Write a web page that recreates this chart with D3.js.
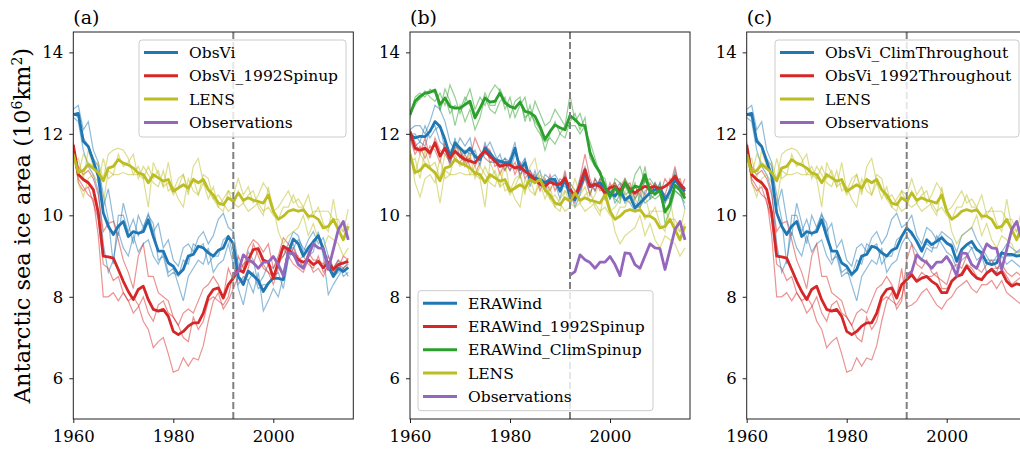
<!DOCTYPE html>
<html lang="en">
<head>
<meta charset="UTF-8">
<title>Antarctic sea ice area</title>
<script src="https://cdn.jsdelivr.net/npm/d3@7"></script>
<style>
  body { margin: 0; background: #fff; }
  svg text { font-family: 'DejaVu Serif', serif; fill: #000; }
  .tick text { font-size: 16.5px; }
  .legend text { font-size: 15.5px; }
  .title { font-size: 19px; }
</style>
</head>
<body>
<svg id="chart" width="1020" height="450"></svg>
<script>
// years of the model runs and of the observations
const years = d3.range(1960, 2016);
const obsYears = d3.range(1992, 2016);
const xTicks = [1960, 1980, 2000];
const yTicks = [6, 8, 10, 12, 14];

// ---- panel (a) / (c) shared: ObsVi ----
const obsViMean = [12.47, 12.5, 11.82, 11.69, 11.33, 10.96, 10.06, 9.73, 9.53, 9.73,
  9.85, 9.48, 9.6, 9.56, 9.6, 9.89, 9.48, 9.12, 9.12, 8.83,
  8.75, 8.55, 8.67, 9.0, 9.04, 9.24, 9.2, 9.08, 9.0, 9.14,
  9.2, 9.48, 9.3, 8.5, 8.3, 8.63, 8.52, 8.4, 8.13, 8.33,
  8.46, 8.45, 8.42, 9.1, 9.42, 9.3, 9.0, 9.2, 9.35, 9.5,
  9.18, 8.75, 8.5, 8.7, 8.62, 8.72];
const obsViM1 = [12.6, 12.7, 12.1, 12.3, 11.6, 11.3, 10.2, 10.65, 9.9, 9.5,
  10.3, 9.8, 9.3, 10.0, 9.7, 10.05, 9.6, 9.8, 9.2, 9.4,
  8.9, 8.75, 9.2, 9.3, 9.1, 9.45, 9.6, 9.3, 9.5, 9.9,
  10.05, 9.7, 9.6, 8.8, 8.6, 9.1, 8.9, 8.3, 8.5, 8.8,
  8.7, 8.9, 9.0, 9.3, 9.6, 9.5, 9.1, 9.4, 9.6, 9.3,
  9.45, 9.0, 8.7, 8.9, 8.5, 8.6];
const obsViM2 = [12.4, 12.3, 11.6, 11.2, 11.0, 10.6, 9.3, 8.6, 8.9, 9.6,
  9.2, 9.0, 9.5, 9.1, 9.3, 9.4, 9.0, 8.8, 9.1, 8.6,
  8.7, 8.3, 7.9, 8.5, 8.7, 8.9, 8.8, 9.2, 8.6, 8.8,
  8.9, 9.3, 8.8, 8.2, 7.8, 8.4, 8.1, 8.6, 7.65, 7.9,
  8.2, 8.0, 8.5, 9.1, 9.3, 8.9, 8.7, 9.0, 9.1, 9.6,
  9.0, 8.05, 8.3, 8.5, 8.7, 8.5];
const obsViM3 = [12.5, 12.4, 11.9, 11.7, 11.4, 11.2, 10.5, 9.9, 8.8, 10.0,
  10.0, 9.6, 9.9, 9.5, 9.7, 10.0, 9.8, 8.9, 9.0, 8.5,
  8.6, 8.5, 8.9, 8.8, 9.3, 9.2, 9.3, 8.8, 9.0, 9.0,
  9.4, 9.5, 9.0, 8.3, 8.5, 8.4, 8.6, 8.2, 8.3, 8.3,
  8.5, 8.6, 8.2, 8.9, 9.2, 9.4, 9.2, 9.1, 9.4, 9.5,
  9.1, 8.8, 8.5, 8.6, 8.7, 8.85];

// ---- ObsVi_1992Spinup ----
const spinupMean = [11.73, 11.0, 10.88, 10.8, 10.63, 10.06, 9.0, 8.98, 8.95, 8.67,
  8.38, 8.13, 7.93, 8.18, 8.26, 7.93, 7.69, 7.65, 7.69, 7.52,
  7.15, 7.07, 7.15, 7.28, 7.36, 7.36, 7.6, 8.0, 8.18, 8.22,
  7.97, 8.3, 8.46, 8.67, 8.6, 8.91, 9.16, 9.18, 8.9, 8.85,
  8.46, 8.85, 9.24, 9.16, 9.04, 8.91, 8.85, 8.91, 8.79, 8.87,
  8.71, 8.85, 8.67, 8.79, 8.83, 8.87];
const spinupM1 = [11.5, 10.9, 10.7, 10.5, 10.4, 9.5, 8.0, 8.0, 8.1, 7.9,
  8.1, 7.9, 8.0, 7.8, 7.4, 7.2, 6.75, 6.9, 7.0, 6.6,
  6.15, 6.2, 6.5, 6.3, 6.5, 6.45, 6.8, 7.4, 7.9, 8.1,
  7.7, 7.9, 8.2, 8.5, 8.4, 8.7, 9.3, 9.0, 8.7, 8.6,
  8.3, 8.7, 9.2, 9.0, 8.8, 8.7, 8.6, 8.9, 8.6, 8.7,
  8.5, 8.8, 8.6, 8.7, 9.0, 8.9];
const spinupM2 = [11.6, 11.2, 11.0, 11.1, 10.9, 10.5, 9.6, 9.8, 9.85, 9.4,
  8.9, 8.6, 8.2, 9.0, 9.3, 8.5, 8.5, 8.1, 8.0, 7.9,
  7.5, 7.3, 7.6, 7.7, 7.6, 7.9, 8.2, 8.3, 8.5, 8.3,
  8.0, 8.7, 8.4, 9.0, 8.7, 9.2, 9.4, 9.3, 9.1, 9.3,
  8.7, 9.0, 9.45, 9.3, 9.1, 9.0, 8.7, 9.1, 8.9, 8.9,
  8.8, 9.0, 8.7, 8.9, 8.8, 8.95];
const spinupM3 = [11.8, 10.8, 10.6, 10.7, 10.3, 9.9, 8.8, 8.7, 8.4, 8.5,
  8.1, 7.9, 7.6, 7.75, 8.0, 7.6, 7.4, 7.8, 7.9, 7.6,
  7.5, 7.3, 7.0, 6.9, 7.5, 7.2, 7.4, 7.9, 8.0, 7.9,
  7.8, 8.0, 8.6, 8.6, 8.8, 8.9, 8.8, 9.2, 8.8, 8.6,
  8.5, 8.8, 9.0, 9.2, 9.2, 8.9, 9.0, 8.8, 8.7, 9.0,
  8.6, 8.75, 8.55, 8.8, 8.7, 8.8];

// ---- LENS (all panels) ----
const lensMean = [11.5, 11.05, 11.1, 11.25, 11.15, 11.05, 10.85, 11.16, 11.2, 11.37,
  11.28, 11.24, 11.16, 11.04, 11.0, 10.8, 11.0, 10.92, 10.84, 10.88,
  10.59, 10.67, 10.75, 10.67, 10.88, 10.8, 10.88, 10.63, 10.5, 10.3,
  10.26, 10.43, 10.34, 10.55, 10.37, 10.43, 10.37, 10.34, 10.3, 10.5,
  10.1, 9.9, 9.98, 10.1, 10.14, 10.1, 10.14, 9.98, 9.98, 9.9,
  9.69, 9.73, 9.9, 9.65, 9.4, 9.73];
const lensM1 = [11.3, 11.4, 10.9, 11.6, 11.2, 11.3, 10.9, 11.5, 11.6, 11.65,
  11.6, 11.4, 11.0, 11.2, 10.9, 10.2, 11.3, 11.0, 10.7, 11.3,
  10.6, 10.9, 11.0, 10.5, 11.2, 11.4, 10.8, 10.4, 10.7, 10.2,
  10.1, 10.6, 10.5, 10.9, 10.5, 10.7, 10.3, 10.5, 10.8, 10.6,
  10.2, 9.6, 9.3, 9.5, 9.6, 9.7, 10.0, 9.5, 9.8, 9.4,
  9.2, 9.5, 9.4, 9.3, 9.0, 9.2];
const lensM2 = [11.6, 10.8, 10.45, 10.9, 11.0, 10.8, 11.4, 10.9, 11.0, 11.5,
  11.2, 11.3, 11.5, 10.9, 11.2, 11.0, 10.8, 10.7, 11.1, 10.6,
  10.7, 10.4, 10.2, 10.9, 10.6, 10.5, 11.0, 10.9, 10.4, 10.5,
  10.3, 10.1, 10.2, 10.6, 10.3, 10.5, 10.6, 10.2, 10.0, 10.7,
  10.1, 10.2, 10.4, 10.6, 10.3, 10.4, 10.2, 10.5, 10.0, 10.2,
  9.8, 9.6, 10.4, 9.7, 9.6, 10.15];
const lensM3 = [11.6, 11.0, 11.5, 11.3, 11.2, 11.0, 10.3, 11.1, 11.0, 11.0,
  11.05, 11.0, 11.0, 11.0, 10.9, 11.2, 10.9, 11.1, 10.7, 10.8,
  10.5, 10.7, 11.0, 10.6, 10.9, 10.5, 10.8, 10.6, 10.4, 10.2,
  10.4, 10.6, 10.3, 10.2, 10.3, 10.1, 10.2, 10.3, 10.1, 10.2,
  10.0, 9.9, 10.2, 10.2, 10.5, 10.2, 10.2, 9.9, 10.1, 10.1,
  10.1, 10.1, 9.9, 9.9, 9.6, 9.8];

// ---- Observations, 1992-2015 ----
const obsArea = [8.53, 8.62, 9.03, 8.91, 8.84, 8.7, 8.85, 8.85,
  8.99, 8.79, 8.52, 9.08, 9.06, 8.79, 8.7, 9.0, 9.3, 9.2,
  9.18, 8.67, 9.16, 9.65, 9.85, 9.4];

// ---- panel (b): ERAWind runs ----
const eraWindMean = [11.98, 11.9, 11.94, 11.93, 12.06, 12.3, 12.18, 11.86, 11.45, 11.78,
  11.65, 11.53, 11.65, 11.45, 11.37, 11.65, 11.53, 11.37, 11.33, 11.29,
  11.29, 11.65, 11.12, 11.29, 10.88, 10.92, 10.88, 10.8, 10.88, 10.88,
  10.59, 10.88, 10.47, 10.38, 10.7, 11.04, 10.7, 10.75, 10.8, 10.67,
  10.55, 10.47, 10.63, 10.38, 10.47, 10.18, 10.3, 10.43, 10.55, 10.63,
  10.67, 10.38, 10.59, 10.88, 10.7, 10.59];
const eraWindM1 = [12.1, 12.2, 12.2, 12.0, 12.3, 12.7, 12.6, 12.3, 11.8, 11.6,
  11.9, 11.7, 11.9, 11.3, 11.5, 11.6, 11.8, 11.5, 11.2, 11.4,
  11.1, 11.5, 11.3, 11.0, 11.1, 10.9, 11.1, 10.6, 10.9, 10.8,
  10.4, 10.9, 10.3, 10.5, 10.9, 11.2, 10.8, 10.6, 10.9, 10.8,
  10.4, 10.6, 10.8, 10.5, 10.6, 10.3, 10.2, 10.6, 10.7, 10.5,
  10.8, 10.3, 10.7, 11.0, 10.8, 10.4];
const eraWindM2 = [11.9, 11.7, 11.8, 12.2, 11.9, 12.1, 12.2, 11.6, 11.3, 11.9,
  11.4, 11.6, 11.5, 11.6, 11.2, 11.8, 11.3, 11.3, 11.5, 11.1,
  11.4, 11.8, 10.9, 11.4, 10.7, 11.1, 10.7, 11.0, 10.9, 11.0,
  10.8, 10.7, 10.6, 10.2, 10.5, 11.0, 10.5, 10.9, 10.7, 10.5,
  10.7, 10.3, 10.5, 10.4, 10.3, 10.1, 10.5, 10.3, 10.4, 10.8,
  10.6, 10.5, 10.4, 10.7, 10.6, 10.15];
const eraWindM3 = [12.0, 12.0, 11.8, 11.7, 12.1, 12.2, 11.8, 11.7, 11.2, 11.8,
  11.6, 11.3, 11.6, 11.4, 11.4, 11.5, 11.5, 11.3, 11.3, 11.4,
  11.3, 11.6, 11.2, 11.4, 10.9, 10.8, 10.9, 10.8, 10.8, 10.85,
  10.6, 11.0, 10.5, 10.4, 10.7, 10.9, 10.8, 10.7, 10.8, 10.7,
  10.5, 10.5, 10.6, 10.3, 10.5, 10.2, 10.2, 10.4, 10.6, 10.6,
  10.6, 10.4, 10.6, 11.1, 10.7, 10.7];

const eraSpinupMean = [12.06, 11.65, 11.6, 11.65, 11.53, 11.78, 11.45, 11.65, 11.4, 11.57,
  11.45, 11.37, 11.33, 11.29, 11.45, 11.57, 11.45, 11.33, 11.2, 11.24,
  11.24, 11.16, 11.2, 11.08, 11.0, 10.88, 10.76, 10.72, 10.82, 10.76,
  10.76, 10.92, 10.65, 10.45, 10.75, 11.12, 10.71, 10.76, 10.71, 10.55,
  10.68, 10.71, 10.59, 10.8, 10.64, 10.55, 10.64, 10.71, 10.68, 10.71,
  10.64, 10.71, 10.8, 10.96, 10.76, 10.64];
const eraSpinupM1 = [12.1, 11.8, 11.5, 11.9, 11.4, 11.9, 11.6, 11.5, 11.3, 11.7,
  11.6, 11.2, 11.4, 11.9, 11.6, 11.4, 11.3, 11.4, 11.0, 11.3,
  11.1, 11.3, 11.0, 11.2, 10.9, 11.0, 10.6, 10.9, 10.6, 10.9,
  10.6, 11.1, 10.5, 10.3, 10.9, 11.5, 10.9, 10.6, 10.9, 10.4,
  10.8, 10.5, 10.7, 10.9, 10.5, 10.7, 10.5, 10.9, 10.6, 10.8,
  10.5, 10.9, 10.7, 11.2, 10.6, 10.9];
const eraSpinupM2 = [11.9, 11.5, 11.7, 11.4, 11.7, 11.6, 11.3, 11.8, 11.5, 11.4,
  11.3, 11.5, 11.2, 11.0, 11.3, 11.7, 11.6, 11.2, 11.3, 11.1,
  11.4, 11.0, 11.3, 10.9, 11.1, 10.8, 10.9, 10.6, 11.0, 10.6,
  10.9, 10.8, 10.8, 10.6, 10.6, 10.9, 10.5, 10.9, 10.6, 10.7,
  10.5, 10.8, 10.5, 10.7, 10.8, 10.4, 10.7, 10.5, 10.8, 10.6,
  10.7, 10.5, 10.9, 10.8, 10.9, 10.5];
const eraSpinupM3 = [12.0, 11.6, 11.6, 11.6, 11.5, 11.8, 11.5, 11.6, 11.4, 11.6,
  11.5, 11.4, 11.4, 11.2, 11.5, 11.6, 11.4, 11.4, 11.2, 11.3,
  11.2, 11.2, 11.2, 11.1, 11.0, 10.9, 10.8, 10.7, 10.8, 10.8,
  10.8, 10.9, 10.6, 10.4, 10.7, 11.0, 10.7, 10.8, 10.7, 10.5,
  10.7, 10.8, 10.6, 10.8, 10.6, 10.5, 10.7, 10.7, 10.6, 10.7,
  10.7, 10.7, 10.8, 10.9, 10.8, 10.5];

const eraClimMean = [12.47, 12.8, 12.92, 13.0, 13.02, 13.07, 12.72, 12.88, 12.67, 12.63,
  12.63, 12.72, 12.8, 12.39, 12.63, 12.88, 12.78, 12.8, 13.0, 12.76,
  12.67, 12.63, 12.78, 12.55, 12.52, 12.43, 12.18, 11.86, 12.06, 12.22,
  12.15, 12.1, 12.45, 12.35, 12.22, 12.2, 11.55, 11.25, 11.05, 10.7,
  10.47, 10.68, 10.5, 10.8, 10.58, 10.72, 10.68, 11.0, 10.6, 10.52,
  10.62, 10.08, 10.28, 10.74, 10.62, 10.42];
const eraClimM1 = [12.5, 12.7, 12.9, 13.05, 12.9, 12.8, 13.0, 12.7, 13.2, 12.9,
  12.5, 12.8, 13.1, 12.6, 12.9, 12.7, 13.0, 13.2, 13.05, 12.6,
  12.9, 12.4, 12.7, 12.9, 12.3, 12.8, 12.5, 12.2, 12.3, 12.6,
  12.4, 12.2, 12.95, 12.3, 12.5, 12.1, 11.8, 11.4, 11.0, 10.9,
  10.4, 10.9, 10.8, 10.7, 10.5, 11.0, 11.2, 10.8, 10.9, 10.7,
  10.6, 10.3, 10.5, 11.0, 10.8, 10.5];
const eraClimM2 = [12.4, 12.9, 13.0, 12.9, 13.1, 13.0, 12.6, 13.1, 12.8, 12.2,
  12.7, 12.3, 12.6, 12.1, 12.4, 12.9, 12.6, 12.5, 12.8, 12.9,
  12.4, 12.8, 12.9, 12.3, 12.7, 12.2, 12.0, 11.8, 11.9, 11.75,
  12.0, 11.9, 12.3, 12.5, 12.1, 12.4, 11.4, 11.2, 11.1, 10.6,
  10.6, 10.4, 10.3, 10.9, 10.7, 10.4, 10.6, 11.2, 10.4, 10.5,
  10.8, 9.8, 10.1, 10.6, 10.5, 10.3];
const eraClimM3 = [12.5, 12.8, 12.85, 13.0, 13.05, 13.1, 12.6, 12.9, 12.5, 12.7,
  12.6, 12.9, 12.7, 12.5, 12.6, 13.0, 12.7, 12.7, 13.1, 12.8,
  12.7, 12.6, 12.8, 12.4, 12.5, 12.3, 12.1, 11.6, 12.0, 12.3,
  12.0, 12.2, 12.2, 12.2, 12.0, 12.2, 11.5, 11.2, 11.0, 10.6,
  10.4, 10.7, 10.4, 10.8, 10.5, 10.8, 10.3, 10.9, 10.5, 10.4,
  10.5, 10.1, 10.2, 10.6, 10.5, 10.4];

// ---- panel (c): runs that differ from 1992 onward (1992-2015) ----
const climThroughoutMean = [9.69, 9.57, 9.36, 9.12, 9.4, 9.28, 9.36, 9.45,
  9.32, 9.24, 8.87, 9.16, 9.28, 9.36, 9.16, 9.08, 8.83, 8.79,
  8.83, 9.08, 9.04, 9.04, 9.0, 9.02];
const climThroughoutM1 = [9.8, 10.0, 9.5, 9.3, 9.7, 9.6, 9.4, 9.6,
  9.5, 9.4, 9.1, 9.5, 9.6, 9.7, 9.4, 9.2, 9.0, 8.8,
  9.0, 9.1, 9.3, 9.2, 9.1, 9.2];
const climThroughoutM2 = [9.5, 9.3, 9.1, 8.9, 9.2, 9.1, 9.5, 9.3,
  9.1, 9.0, 8.7, 8.9, 9.0, 9.2, 8.9, 9.0, 8.6, 8.7,
  8.6, 9.0, 8.8, 8.9, 8.8, 8.7];
const climThroughoutM3 = [9.7, 9.5, 9.4, 9.2, 9.3, 9.2, 9.2, 9.5,
  9.3, 9.3, 8.9, 9.1, 9.3, 9.2, 9.2, 9.0, 8.9, 8.9,
  8.9, 9.1, 9.0, 9.0, 9.1, 9.1];
const throughout1992Mean = [8.42, 8.54, 8.38, 8.46, 8.5, 8.38, 8.3, 8.1,
  8.1, 8.38, 8.5, 8.54, 8.75, 8.58, 8.46, 8.42, 8.58, 8.67,
  8.54, 8.62, 8.38, 8.26, 8.32, 8.28];
const throughout1992M1 = [8.9, 9.3, 8.8, 8.7, 8.9, 8.6, 8.5, 8.4,
  8.3, 8.7, 8.8, 8.7, 9.0, 8.8, 8.7, 8.6, 8.8, 8.9,
  8.7, 8.8, 8.6, 8.5, 8.6, 8.5];
const throughout1992M2 = [7.75, 7.8, 7.9, 8.1, 8.2, 8.0, 7.8, 7.7,
  7.9, 8.0, 8.2, 8.3, 8.4, 8.2, 8.1, 8.3, 8.3, 8.4,
  8.2, 8.4, 8.1, 8.0, 7.9, 7.8];
const throughout1992M3 = [8.5, 8.6, 8.4, 8.6, 8.5, 8.5, 8.6, 8.2,
  8.2, 8.4, 8.5, 8.6, 8.8, 8.7, 8.5, 8.4, 8.6, 8.7,
  8.7, 8.7, 8.5, 8.3, 8.4, 8.5];

// (c) runs share the spin-up period (1960-1991) with (a)
const pre = a => a.slice(0, 32);

const C = {blue: "#1f77b4", red: "#d62728", green: "#2ca02c", olive: "#bcbd22", purple: "#9467bd"};

const lens = {label: "LENS", color: C.olive, mean: lensMean, members: [lensM1, lensM2, lensM3]};
const obs = {label: "Observations", color: C.purple, mean: obsArea, members: [], yrs: obsYears};

const panels = [
  {title: "(a)", left: 73.3,
   series: [
     {label: "ObsVi", color: C.blue, mean: obsViMean, members: [obsViM1, obsViM2, obsViM3]},
     {label: "ObsVi_1992Spinup", color: C.red, mean: spinupMean, members: [spinupM1, spinupM2, spinupM3]},
     lens, obs],
   legend: {x: 139, y: 40, w: 207, h: 97}},
  {title: "(b)", left: 410,
   series: [
     {label: "ERAWind", color: C.blue, mean: eraWindMean, members: [eraWindM1, eraWindM2, eraWindM3]},
     {label: "ERAWind_1992Spinup", color: C.red, mean: eraSpinupMean, members: [eraSpinupM1, eraSpinupM2, eraSpinupM3]},
     {label: "ERAWind_ClimSpinup", color: C.green, mean: eraClimMean, members: [eraClimM1, eraClimM2, eraClimM3]},
     lens, obs],
   legend: {x: 418, y: 290.7, w: 235, h: 120}},
  {title: "(c)", left: 746.7,
   series: [
     {label: "ObsVi_ClimThroughout", color: C.blue,
      mean: pre(obsViMean).concat(climThroughoutMean),
      members: [pre(obsViM1).concat(climThroughoutM1), pre(obsViM2).concat(climThroughoutM2), pre(obsViM3).concat(climThroughoutM3)]},
     {label: "ObsVi_1992Throughout", color: C.red,
      mean: pre(spinupMean).concat(throughout1992Mean),
      members: [pre(spinupM1).concat(throughout1992M1), pre(spinupM2).concat(throughout1992M2), pre(spinupM3).concat(throughout1992M3)]},
     lens, obs],
   legend: {x: 775, y: 40, w: 244, h: 97}}
];

const svg = d3.select("#chart");
const plotTop = 32, plotBottom = 419, pw = 280;
const y = d3.scaleLinear().domain([5, 14.5]).range([plotBottom, plotTop]);

panels.forEach((p, pi) => {
  const x = d3.scaleLinear().domain([1960, 2016]).range([p.left, p.left + pw]);
  const g = svg.append("g");
  const line = d3.line().x(d => x(d[0])).y(d => y(d[1]));
  const pts = (arr, yrs) => (yrs || years).map((yr, i) => [yr, arr[i]]);

  g.append("clipPath").attr("id", "clip" + pi)
    .append("rect").attr("x", p.left).attr("y", plotTop).attr("width", pw).attr("height", plotBottom - plotTop);
  const plot = g.append("g").attr("clip-path", `url(#clip${pi})`);

  // thin ensemble members first
  p.series.forEach(s => {
    s.members.forEach(m => {
      plot.append("path").attr("d", line(pts(m, s.yrs)))
        .attr("fill", "none").attr("stroke", s.color)
        .attr("stroke-width", 1.2).attr("stroke-opacity", 0.5);
    });
  });
  // ensemble means
  p.series.forEach(s => {
    plot.append("path").attr("d", line(pts(s.mean, s.yrs)))
      .attr("fill", "none").attr("stroke", s.color)
      .attr("stroke-width", 2.8).attr("stroke-linejoin", "round");
  });

  // 1992 marker
  g.append("line")
    .attr("x1", x(1992)).attr("x2", x(1992)).attr("y1", plotTop).attr("y2", plotBottom)
    .attr("stroke", "#808080").attr("stroke-width", 2).attr("stroke-dasharray", "7,3");

  // axes
  const ax = g.append("g").attr("transform", `translate(0,${plotBottom})`)
    .call(d3.axisBottom(x).tickValues(xTicks).tickFormat(d3.format("d")).tickSize(4).tickPadding(7));
  const ay = g.append("g").attr("transform", `translate(${p.left},0)`)
    .call(d3.axisLeft(y).tickValues(yTicks).tickSize(4).tickPadding(6));
  [ax, ay].forEach(a => {
    a.select(".domain").remove();
    a.selectAll(".tick line").attr("stroke", "#222").attr("stroke-width", 1);
    a.selectAll(".tick text").attr("fill", "#111");
  });

  g.append("rect")
    .attr("x", p.left).attr("y", plotTop).attr("width", pw).attr("height", plotBottom - plotTop)
    .attr("fill", "none").attr("stroke", "#222").attr("stroke-width", 1);

  g.append("text").attr("class", "title")
    .attr("x", p.left).attr("y", 24).text(p.title);

  // legend
  const L = p.legend;
  const lg = g.append("g").attr("class", "legend");
  lg.append("rect").attr("x", L.x).attr("y", L.y).attr("width", L.w).attr("height", L.h)
    .attr("rx", 3).attr("fill", "#fff").attr("fill-opacity", 0.8)
    .attr("stroke", "#cccccc").attr("stroke-width", 1);
  p.series.forEach((s, i) => {
    const ry = L.y + 12.5 + i * 23.3;
    lg.append("line").attr("x1", L.x + 5).attr("x2", L.x + 39).attr("y1", ry).attr("y2", ry)
      .attr("stroke", s.color).attr("stroke-width", 3);
    lg.append("text").attr("x", L.x + 50).attr("y", ry + 5.5).text(s.label);
  });
});

// shared y label
svg.append("text")
  .attr("transform", "translate(30,225.5) rotate(-90)")
  .attr("text-anchor", "middle")
  .style("font-size", "22.5px")
  .html('Antarctic sea ice area (10<tspan dy="-8" font-size="14">6</tspan><tspan dy="8">km</tspan><tspan dy="-8" font-size="14">2</tspan><tspan dy="8">)</tspan>');
</script>
</body>
</html>
